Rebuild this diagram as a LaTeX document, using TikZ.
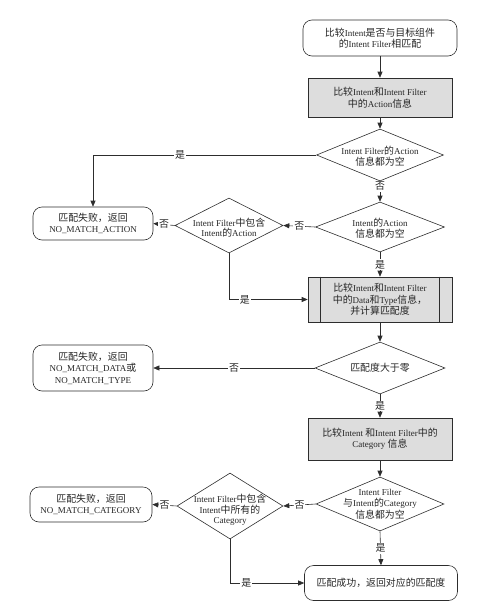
\documentclass[tikz,border=0pt]{standalone}
\usepackage{fontspec}
\setmainfont{Liberation Serif}
\newfontfamily\cjk[Scale=1.1]{Noto Sans CJK SC}
\newcommand\zh[1]{{\cjk #1}}
\usetikzlibrary{shapes.geometric,arrows.meta}
\definecolor{boxgray}{RGB}{221,221,221}
\definecolor{linec}{RGB}{45,45,45}
\begin{document}
\begin{tikzpicture}[x=1pt,y=-1pt,
  font=\fontsize{9}{11.5}\selectfont,
  every node/.style={text=black!85},
  term/.style={draw=linec, line width=0.6pt, rounded corners=9pt, align=center, inner sep=0pt},
  proc/.style={draw=linec, line width=0.6pt, fill=boxgray, align=center, inner sep=0pt},
  dec/.style={draw=linec, line width=0.6pt, diamond, inner sep=0pt},
  txt/.style={align=center, inner sep=0pt},
  lab/.style={fill=white, inner sep=1pt, font=\cjk\fontsize{9}{10}\selectfont},
  arr/.style={draw=linec, line width=0.6pt, -{Triangle[length=6pt,width=5pt]}},
  ln/.style={draw=linec, line width=0.6pt}]
\useasboundingbox (0,0) rectangle (480,616);

% main column
\node[term, minimum width=154pt, minimum height=36pt] (start) at (380,38)
  {\zh{比较}Intent\zh{是否与目标组件}\\\zh{的}Intent Filter\zh{相匹配}};
\node[proc, minimum width=144pt, minimum height=39pt] (b2) at (380,97.5)
  {\zh{比较}Intent\zh{和}Intent Filter\\\zh{中的}Action\zh{信息}};
\node[dec, minimum width=127pt, minimum height=52pt] (d1) at (380,155) {};
\node[txt] (d1t) at (380,156) {Intent Filter\zh{的}Action\\\zh{信息都为空}};
\node[dec, minimum width=129pt, minimum height=50pt] (d2) at (380,227) {};
\node[txt] (d2t) at (380,228) {Intent\zh{的}Action\\\zh{信息都为空}};
\node[proc, minimum width=144pt, minimum height=45pt] (b3) at (380,299.5)
  {\zh{比较}Intent\zh{和}Intent Filter\\\zh{中的}Data\zh{和}Type\zh{信息，}\\\zh{并计算匹配度}};
\draw[ln] ([xshift=13pt]b3.north west) -- ([xshift=13pt]b3.south west);
\draw[ln] ([xshift=-13pt]b3.north east) -- ([xshift=-13pt]b3.south east);
\node[dec, minimum width=130pt, minimum height=52pt] (d4) at (380,368) {};
\node[txt] (d4t) at (380,368) {\zh{匹配度大于零}};
\node[proc, minimum width=144pt, minimum height=42pt] (b4) at (380,439)
  {\zh{比较}Intent \zh{和}Intent Filter\zh{中的}\\Category \zh{信息}};
\node[dec, minimum width=128pt, minimum height=54pt] (d5) at (380,504) {};
\node[txt] (d5t) at (380,504) {Intent Filter\\\zh{与}Intent\zh{的}Category\\\zh{信息都为空}};
\node[term, minimum width=153pt, minimum height=35pt] (fin) at (381,583)
  {\zh{匹配成功，返回对应的匹配度}};

% left side
\node[dec, minimum width=108pt, minimum height=55pt] (d3) at (229,225.5) {};
\node[txt, font=\fontsize{9}{10}\selectfont] (d3t) at (229,228) {Intent Filter\zh{中包含}\\Intent\zh{的}Action};
\node[term, minimum width=120pt, minimum height=33pt] (e1) at (93,223.5)
  {\zh{匹配失败，返回}\\NO\_MATCH\_ACTION};
\node[term, minimum width=120pt, minimum height=46pt] (e2) at (93,368)
  {\zh{匹配失败，返回}\\NO\_MATCH\_DATA\zh{或}\\NO\_MATCH\_TYPE};
\node[dec, minimum width=106pt, minimum height=66pt] (d6) at (230,506) {};
\node[txt, font=\fontsize{9}{10.5}\selectfont] (d6t) at (230,510) {Intent Filter\zh{中包含}\\Intent\zh{中所有的}\\Category};
\node[term, minimum width=122pt, minimum height=35pt] (e3) at (91,504.5)
  {\zh{匹配失败，返回}\\NO\_MATCH\_CATEGORY};

% connectors
\draw[arr] (start) -- (b2);
\draw[arr] (b2) -- (d1);
\draw[arr] (d1.south) -- node[lab, pos=0.25]{否} (d2.north);
\draw[arr] (d1.west) -| node[lab, pos=0.305]{是} (e1.north);
\draw[arr] (d2.west) -- node[lab]{否} (d3.east);
\draw[arr] (d3.west) -- node[lab]{否} (e1.east);
\draw[arr] (d2.south) -- node[lab]{是} (b3.north);
\draw[arr] (d3.south) |- node[lab, pos=0.6]{是} (b3.west);
\draw[arr] (b3) -- (d4);
\draw[arr] (d4.west) -- node[lab]{否} (e2.east);
\draw[arr] (d4.south) -- node[lab]{是} (b4.north);
\draw[arr] (b4) -- (d5);
\draw[arr] (d5.west) -- node[lab]{否} (d6.east);
\draw[arr] (d6.west) -- node[lab]{否} (e3.east);
\draw[arr] (d5.south) -- node[lab]{是} (fin.north);
\draw[arr] (d6.south) |- node[lab, pos=0.61]{是} (fin.west);
\end{tikzpicture}
\end{document}
